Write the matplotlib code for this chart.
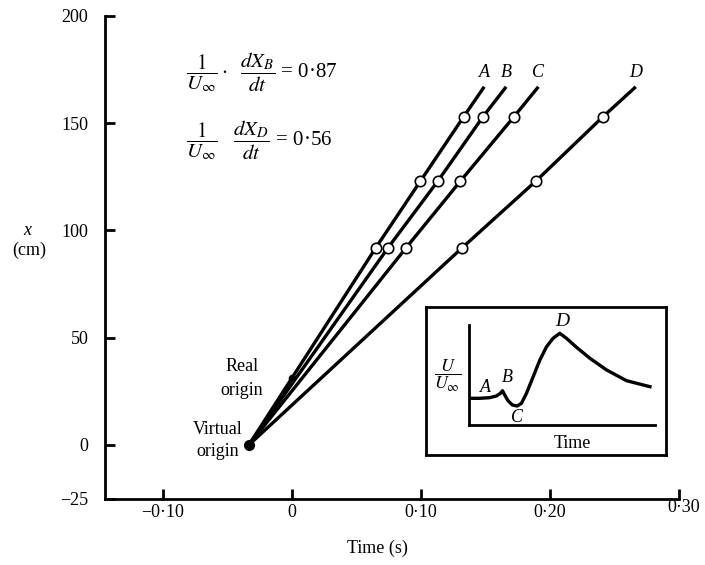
import matplotlib.pyplot as plt

plt.rcParams['font.family'] = 'Liberation Serif'
plt.rcParams['mathtext.fontset'] = 'stix'
plt.rcParams['font.size'] = 13

# probe stations along the tunnel (cm)
stations = [92, 123, 153]

# arrival times (s) of each feature at the three stations
names = ['A', 'B', 'C', 'D']
t_A = [0.065, 0.0995, 0.133]
t_B = [0.0745, 0.113, 0.148]
t_C = [0.0885, 0.1305, 0.172]
t_D = [0.132, 0.189, 0.241]
arrivals = [t_A, t_B, t_C, t_D]

# where each line is drawn up to
x_top = 167
t_top = [0.149, 0.166, 0.191, 0.2665]

virtual_origin = (-0.0335, 0)
real_origin = (0.0, 31)

xticks = [-0.10, 0, 0.10, 0.20, 0.30]
xtick_labels = ['\u22120\u00b710', '0', '0\u00b710', '0\u00b720', '']
yticks = [-25, 0, 50, 100, 150, 200]
ytick_labels = ['\u221225', '0', '50', '100', '150', '200']

# sketch of U/U_inf against time (arbitrary units)
sketch_t = [0.04, 0.57, 1.11, 1.47, 1.69, 1.80, 1.92, 2.10, 2.33, 2.59, 2.82,
            3.09, 3.45, 3.81, 4.17, 4.52, 4.88, 5.24, 5.78, 6.50, 7.40, 8.47, 9.73]
sketch_u = [0.267, 0.267, 0.273, 0.29, 0.317, 0.343, 0.30, 0.243, 0.20, 0.19, 0.217,
            0.317, 0.483, 0.65, 0.783, 0.867, 0.917, 0.867, 0.777, 0.667, 0.55, 0.443, 0.383]

W, H = 705, 565
fig = plt.figure(figsize=(W / 100, H / 100), dpi=100)
ax = fig.add_axes([105 / W, 1 - 498.6 / H, 574 / W, 482.6 / H])

for name, ts, te in zip(names, arrivals, t_top):
    ax.plot([virtual_origin[0]] + ts + [te], [virtual_origin[1]] + stations + [x_top],
            color='black', lw=2.4, solid_capstyle='butt', clip_on=False)
    ax.plot(ts, stations, 'o', mfc='white', mec='black', ms=7.5, mew=1.2, zorder=3)
    ax.text(te, x_top + 6.5, name, style='italic', ha='center', va='center')

ax.plot(*virtual_origin, 'o', color='black', ms=7, zorder=4)
ax.plot(*real_origin, 'o', color='black', ms=4.5, zorder=4)
ax.text(-0.039, 31, 'Real\norigin', ha='center', va='center', linespacing=1.5)
ax.text(-0.058, 2, 'Virtual\norigin', ha='center', va='center', linespacing=1.4)

ax.set_xlim(-0.145, 0.30)
ax.set_ylim(-25, 200)
ax.set_xticks(xticks)
ax.set_xticklabels(xtick_labels)
ax.set_yticks(yticks)
ax.set_yticklabels(ytick_labels)
ax.annotate('0\u00b730', xy=(0.30, -25), xytext=(3.5, -6.5), textcoords='offset points',
            ha='center', va='center')
ax.tick_params(axis='both', direction='in', length=7, width=2)
ax.tick_params(axis='x', pad=4)
ax.tick_params(axis='y', pad=12)
for side in ['top', 'right']:
    ax.spines[side].set_visible(False)
for side in ['left', 'bottom']:
    ax.spines[side].set_linewidth(2)

fig.text(27 / W, 1 - 231 / H, 'x', style='italic', ha='center', va='center')
fig.text(29 / W, 1 - 250 / H, '(cm)', ha='center', va='center')
fig.text(377 / W, 1 - 548 / H, 'Time (s)', ha='center', va='center')

fig.text(186 / W, 1 - 72 / H,
         r'$\dfrac{\ 1\ }{U_\infty}\cdot\ \ \dfrac{dX_B}{dt}$' + ' = 0\u00b787',
         ha='left', va='center', fontsize=15)
fig.text(186 / W, 1 - 140 / H,
         r'$\dfrac{\ 1\ }{U_\infty}\ \ \ \dfrac{dX_D}{dt}$' + ' = 0\u00b756',
         ha='left', va='center', fontsize=15)

# inset sketch
box = fig.add_axes([426 / W, 1 - 455 / H, 240 / W, 148 / H])
box.set_xticks([])
box.set_yticks([])
for s in box.spines.values():
    s.set_linewidth(2)

ins = fig.add_axes([469 / W, 1 - 425 / H, 186 / W, 100 / H])
ins.patch.set_alpha(0)
ins.plot(sketch_t, sketch_u, color='black', lw=2.4)
ins.set_xlim(0, 10)
ins.set_ylim(0, 1)
ins.set_xticks([])
ins.set_yticks([])
for side in ['top', 'right']:
    ins.spines[side].set_visible(False)
for side in ['left', 'bottom']:
    ins.spines[side].set_linewidth(2)
ins.text(0.91, 0.38, 'A', style='italic', ha='center', va='center')
ins.text(2.04, 0.48, 'B', style='italic', ha='center', va='center')
ins.text(2.58, 0.08, 'C', style='italic', ha='center', va='center')
ins.text(5.0, 1.03, 'D', style='italic', ha='center', va='center', fontsize=14)
ins.text(5.54, -0.18, 'Time', ha='center', va='center')
ins.text(-1.13, 0.49, r'$\dfrac{U}{U_\infty}$', ha='center', va='center')

fig.savefig('out.png', dpi=100)
